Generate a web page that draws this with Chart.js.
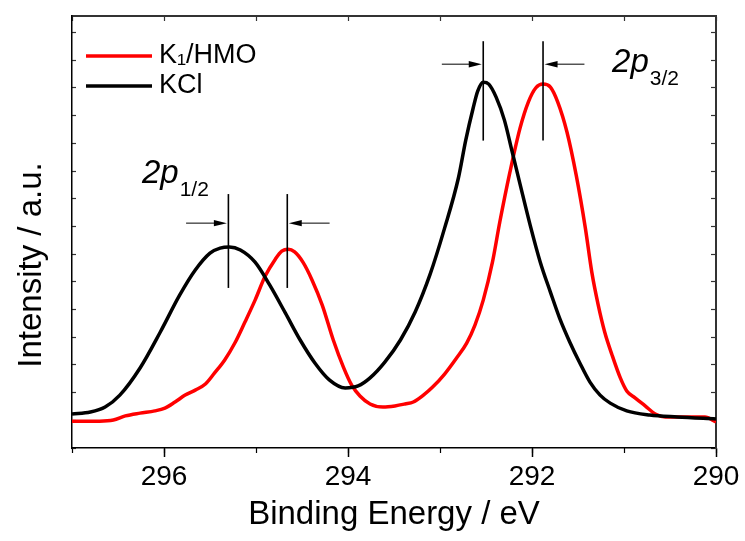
<!DOCTYPE html>
<html><head><meta charset="utf-8">
<script src="https://cdn.jsdelivr.net/npm/chart.js@4.4.1/dist/chart.umd.min.js"></script>
<style>html,body{margin:0;padding:0;background:#fff;}</style>
</head><body>
<canvas id="c" width="745" height="541"></canvas>
<script>
// ---- data ----
const seriesLabels = ['K\u2081/HMO', 'KCl'];
const hmoEnergy = [297.00,296.70,296.55,296.42,296.26,296.10,295.99,295.88,295.77,295.66,295.55,295.45,295.34,295.23,295.12,295.01,294.90,294.79,294.72,294.65,294.58,294.49,294.39,294.28,294.16,294.05,293.96,293.87,293.76,293.62,293.49,293.38,293.29,293.18,293.08,292.95,292.82,292.71,292.62,292.53,292.43,292.35,292.24,292.13,292.04,291.96,291.88,291.80,291.72,291.62,291.52,291.42,291.35,291.28,291.21,291.13,291.04,290.97,290.88,290.77,290.66,290.55,290.28,290.12,290.00];
const hmoIntensity = [0.97,0.97,1.01,1.16,1.26,1.34,1.44,1.66,1.91,2.09,2.31,2.71,3.18,3.79,4.55,5.34,6.21,6.82,7.11,7.18,7.08,6.71,6.06,5.16,3.90,2.92,2.27,1.88,1.59,1.48,1.52,1.59,1.66,1.91,2.20,2.67,3.25,3.79,4.44,5.34,6.71,8.16,9.96,11.55,12.49,13.00,13.14,13.03,12.49,11.41,9.86,7.94,6.35,5.16,4.19,3.36,2.53,2.06,1.81,1.52,1.23,1.12,1.12,1.12,0.94];
const kclEnergy = [297.00,296.80,296.64,296.48,296.26,296.04,295.83,295.66,295.50,295.39,295.29,295.17,295.01,294.85,294.68,294.52,294.36,294.20,294.03,293.89,293.76,293.60,293.43,293.27,293.11,292.95,292.80,292.72,292.64,292.59,292.53,292.47,292.39,292.30,292.22,292.13,292.02,291.91,291.80,291.70,291.59,291.48,291.37,291.26,291.15,290.97,290.72,290.42,290.00];
const kclIntensity = [1.23,1.30,1.48,1.91,2.89,4.19,5.52,6.43,7.04,7.22,7.26,7.15,6.71,5.88,4.87,3.90,3.07,2.45,2.17,2.24,2.53,3.10,3.90,4.91,6.25,7.94,9.75,11.12,12.27,12.89,13.21,13.14,12.67,11.84,10.76,9.53,8.05,6.71,5.63,4.69,3.83,3.07,2.38,1.91,1.62,1.34,1.19,1.12,1.05];
const xTickValues = [296, 294, 292, 290];
const xMinorTickValues = [297, 296, 295, 294, 293, 292, 291, 290];
const peakKCl = [295.30, 292.53];   // 2p1/2, 2p3/2
const peakHMO = [294.66, 291.88];
const peakNames = [['2p', '1/2'], ['2p', '3/2']];

const X_MIN = 290, X_MAX = 297, Y_MIN = 0, Y_MAX = 15.6;
const FONT = "'Liberation Sans', Arial, sans-serif";

// annotation geometry (data units)
const markerGeom = [
  {top: 9.17, bottom: 5.78, arrowY: 8.12, arrowLen: 0.46, labelX: 296.24, labelY: 9.57},
  {top: 14.69, bottom: 11.10, arrowY: 13.86, arrowLen: 0.45, labelX: 291.13, labelY: 13.57}
];

const toPts = (e, v) => e.map((x, i) => ({x, y: v[i]}));

const annotPlugin = {
  id: 'annot',
  afterDatasetsDraw(chart) {
    const {ctx, scales: {x, y}} = chart;
    const X = v => x.getPixelForValue(v), Y = v => y.getPixelForValue(v);
    ctx.save();
    ctx.strokeStyle = '#000'; ctx.fillStyle = '#000';
    markerGeom.forEach((g, i) => {
      const pk = [peakKCl[i], peakHMO[i]];
      ctx.lineWidth = 1.6;
      pk.forEach(e => {
        ctx.beginPath(); ctx.moveTo(X(e), Y(g.top)); ctx.lineTo(X(e), Y(g.bottom)); ctx.stroke();
      });
      const ay = Y(g.arrowY);
      const drawArrow = (tailE, headE, dir) => {
        const hx = X(headE) - dir * 1.5, tx = X(tailE);
        ctx.lineWidth = 1;
        ctx.beginPath(); ctx.moveTo(tx, ay); ctx.lineTo(hx - dir * 12, ay); ctx.stroke();
        ctx.beginPath(); ctx.moveTo(hx, ay); ctx.lineTo(hx - dir * 13, ay - 3.2); ctx.lineTo(hx - dir * 13, ay + 3.2); ctx.closePath(); ctx.fill();
      };
      drawArrow(pk[0] + g.arrowLen, pk[0], 1);
      drawArrow(pk[1] - g.arrowLen, pk[1], -1);
      const lx = X(g.labelX), ly = Y(g.labelY);
      ctx.textBaseline = 'alphabetic'; ctx.textAlign = 'left';
      ctx.font = 'italic 33px ' + FONT;
      ctx.fillText(peakNames[i][0], lx, ly);
      const w = ctx.measureText(peakNames[i][0]).width;
      ctx.font = '21px ' + FONT;
      ctx.fillText(peakNames[i][1], lx + w + 1, ly + 13);
    });
    ctx.restore();
  }
};

const legendPlugin = {
  id: 'customLegend',
  afterDraw(chart) {
    const {ctx, chartArea: a} = chart;
    ctx.save();
    chart.data.datasets.forEach((ds, i) => {
      const yy = a.top + 40 + i * 30;
      ctx.strokeStyle = ds.borderColor; ctx.lineWidth = 3.5;
      ctx.beginPath(); ctx.moveTo(a.left + 14, yy); ctx.lineTo(a.left + 80, yy); ctx.stroke();
      ctx.fillStyle = '#000'; ctx.font = '27px ' + FONT;
      ctx.textBaseline = 'middle'; ctx.textAlign = 'left';
      ctx.fillText(ds.label, a.left + 87, yy);
    });
    ctx.restore();
  }
};

const yTitleShift = {
  id: 'yTitleShift',
  afterLayout(chart) {
    const s = chart.scales.y;
    if (s && !s._shifted) {
      const orig = s.drawTitle.bind(s);
      s.drawTitle = function () { const c = this.ctx; c.save(); c.translate(0, 33); orig(); c.restore(); };
      s._shifted = true;
    }
  }
};

const minorTicks = s => { s.ticks = xMinorTickValues.map(v => ({value: v})); };
const yTicksOpts = {display: false, stepSize: 1, includeBounds: false};

new Chart(document.getElementById('c'), {
  type: 'line',
  data: {
    datasets: [
      {label: seriesLabels[0], data: toPts(hmoEnergy, hmoIntensity), borderColor: '#ff0000', backgroundColor: '#ff0000', borderWidth: 3.5, pointRadius: 0, cubicInterpolationMode: 'monotone', order: 1, xAxisID: 'x', yAxisID: 'y'},
      {label: seriesLabels[1], data: toPts(kclEnergy, kclIntensity), borderColor: '#000000', backgroundColor: '#000000', borderWidth: 3.5, pointRadius: 0, cubicInterpolationMode: 'monotone', order: 0, xAxisID: 'x', yAxisID: 'y'}
    ]
  },
  options: {
    responsive: false, animation: false, devicePixelRatio: 1,
    layout: {padding: {left: 0, top: 16, right: 29, bottom: 0}},
    plugins: {legend: {display: false}, tooltip: {enabled: false}},
    scales: {
      x: {
        type: 'linear', axis: 'x', position: 'bottom', min: X_MIN, max: X_MAX, reverse: true,
        afterBuildTicks: s => { s.ticks = xTickValues.map(v => ({value: v})); },
        ticks: {font: {family: FONT, size: 28}, color: '#000', padding: 3, maxRotation: 0, autoSkip: false},
        grid: {drawOnChartArea: false, tickLength: 9, tickColor: '#000', tickWidth: 1.5},
        border: {color: '#000', width: 1.5},
        title: {display: true, text: 'Binding Energy / eV', font: {family: FONT, size: 33}, color: '#000', padding: {top: 0, bottom: 6}},
        afterFit: s => { s.height = 93; }
      },
      xMinor: {
        type: 'linear', axis: 'x', position: {y: Y_MIN}, min: X_MIN, max: X_MAX, reverse: true,
        afterBuildTicks: minorTicks, ticks: {display: false},
        grid: {drawOnChartArea: false, tickLength: 5, tickColor: '#000', tickWidth: 1.2},
        border: {display: false}
      },
      xTop: {
        type: 'linear', axis: 'x', position: {y: Y_MAX}, min: X_MIN, max: X_MAX, reverse: true,
        afterBuildTicks: minorTicks, ticks: {display: false},
        grid: {drawOnChartArea: false, tickLength: 4, tickColor: '#333', tickWidth: 1.2},
        border: {display: true, color: '#333', width: 2}
      },
      y: {
        type: 'linear', axis: 'y', position: 'left', min: Y_MIN, max: Y_MAX,
        ticks: yTicksOpts,
        grid: {drawOnChartArea: false, tickLength: -4, tickColor: '#333', tickWidth: 1.2},
        border: {color: '#000', width: 1.5},
        title: {display: true, text: 'Intensity / a.u.', font: {family: FONT, size: 33}, color: '#000', padding: {top: 12, bottom: 0}},
        afterFit: s => { s.width = 72; }
      },
      yRight: {
        type: 'linear', axis: 'y', position: {x: X_MIN}, min: Y_MIN, max: Y_MAX,
        ticks: yTicksOpts,
        grid: {drawOnChartArea: false, tickLength: 4, tickColor: '#333', tickWidth: 1.2},
        border: {display: true, color: '#333', width: 2}
      }
    }
  },
  plugins: [annotPlugin, legendPlugin, yTitleShift]
});
</script>
</body></html>
